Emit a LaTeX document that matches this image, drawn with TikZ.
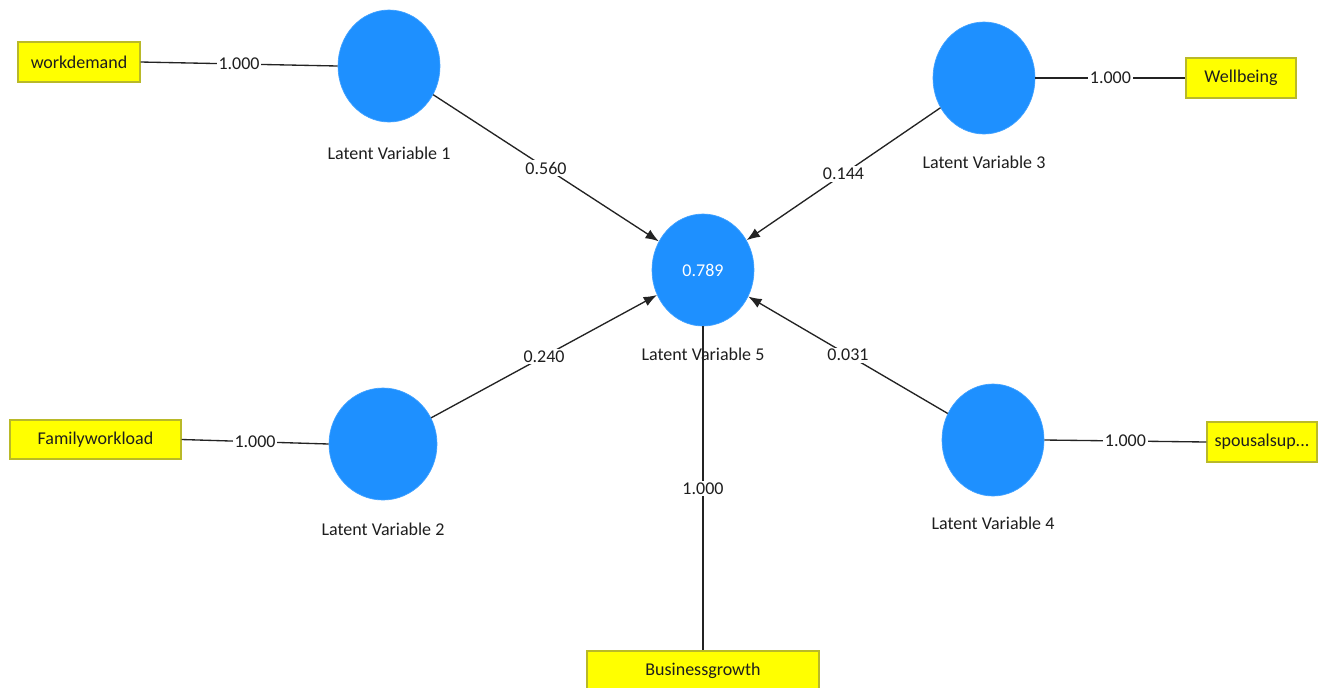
\documentclass[tikz,border=0pt]{standalone}
\usepackage{fontspec}
\setmainfont{Carlito}
\usetikzlibrary{shapes.geometric,arrows.meta,calc}
% one drawing unit
\newdimen\pxl \pxl=0.75pt
\definecolor{lvblue}{RGB}{30,144,255}
\definecolor{mvyellow}{RGB}{255,255,0}
\definecolor{mvedge}{RGB}{185,185,40}
\definecolor{linkgray}{RGB}{35,35,35}
\definecolor{txtgray}{RGB}{30,30,30}
\tikzset{
  txt/.style={font=\fontsize{13.5}{16}\selectfont},
  latent/.style={ellipse, fill=lvblue, draw=lvblue!85!white, line width=0.5pt,
    minimum width=102\pxl, minimum height=112\pxl, inner sep=0pt, text=white, txt},
  manifest/.style={rectangle, fill=mvyellow, draw=mvedge, line width=0.8pt,
    minimum height=40\pxl, inner sep=0pt, text=txtgray, txt},
  caption/.style={inner sep=0pt, text=txtgray, txt},
  link/.style={draw=linkgray, line width=1pt},
  effect/.style={link, -{Latex[length=10pt,width=7.5pt]}},
  coef/.style={fill=white, inner sep=1.2pt, text=txtgray, txt},
}
\begin{document}
\begin{tikzpicture}[x=\pxl, y=-\pxl]
\clip (0,0) rectangle (1325,687);
\fill[white] (0,0) rectangle (1325,687);

% latent variables
\node[latent] (lv1) at (389,66) {};
\node[latent] (lv3) at (984,78) {};
\node[latent] (lv5) at (703,270) {0.789};
\node[latent, minimum width=108\pxl] (lv2) at (383,444) {};
\node[latent] (lv4) at (993,440) {};

% captions under the latent variables
\node[caption] (lv1t) at ($(lv1.south)+(0,31)$) {Latent Variable 1};
\node[caption] (lv3t) at ($(lv3.south)+(0,28)$) {Latent Variable 3};
\node[caption] (lv5t) at ($(lv5.south)+(0,28)$) {Latent Variable 5};
\node[caption] (lv2t) at ($(lv2.south)+(0,29)$) {Latent Variable 2};
\node[caption] (lv4t) at ($(lv4.south)+(0,27)$) {Latent Variable 4};

% indicators
\node[manifest, minimum width=122\pxl] (wd) at (79,62) {workdemand};
\node[manifest, minimum width=110\pxl] (wb) at (1241,78) {Wellbeing};
\node[manifest, minimum width=171\pxl, minimum height=39\pxl] (fw) at (95.5,439.5) {Familyworkload};
\node[manifest, minimum width=110\pxl] (sp) at (1262,442) {spousalsup...};
\node[manifest, minimum width=232\pxl] (bg) at (703,671) {Businessgrowth};

% outer loadings
\draw[link] (wd.east) -- node[coef] {1.000} (lv1.west);
\draw[link] (lv3.east) -- node[coef] {1.000} (wb.west);
\draw[link] (fw.east) -- node[coef] {1.000} (lv2.west);
\draw[link] (lv4.east) -- node[coef] {1.000} (sp.west);
\draw[link] (lv5) -- node[coef] {1.000} (bg);

% path coefficients
\draw[effect] (lv1) -- node[coef] {0.560} (lv5);
\draw[effect] (lv3) -- node[coef] {0.144} (lv5);
\draw[effect] (lv2) -- node[coef] {0.240} (lv5);
\draw[effect] (lv4) -- node[coef] {0.031} (lv5);
\end{tikzpicture}
\end{document}
